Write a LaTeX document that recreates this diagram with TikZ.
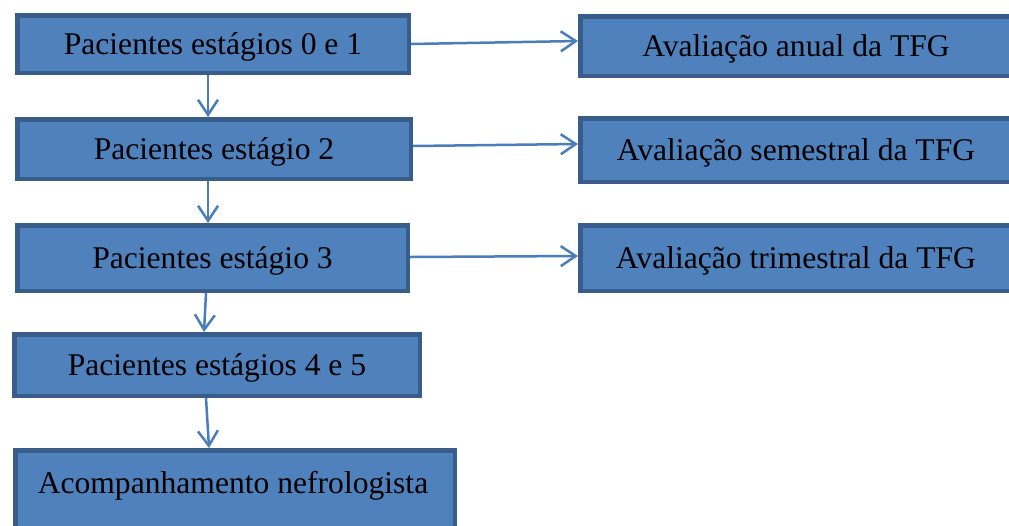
\documentclass[tikz,border=0pt]{standalone}
\usepackage{fontspec}
\setmainfont{Liberation Serif}
\usetikzlibrary{arrows.meta}
\definecolor{boxfill}{HTML}{4F81BD}
\definecolor{boxline}{HTML}{385D8A}
\definecolor{arrcol}{HTML}{4A7EBB}
\tikzset{
  box/.style={draw=boxline, fill=boxfill, line width=4.5pt, inner sep=0pt,
    font=\fontsize{31.6}{38}\selectfont, text=black, text depth=0pt},
  arr/.style={draw=arrcol, line width=2.5pt,
    -{Straight Barb[length=15pt, width=20pt, line width=2.5pt]}},
  txt/.style={inner sep=0pt, font=\fontsize{31.6}{38}\selectfont, text=black, text depth=0pt}
}
\begin{document}
\begin{tikzpicture}[x=1pt, y=-1pt]
\useasboundingbox (0,0) rectangle (1009,525);
\clip (0,0) rectangle (1009,525);
\fill[white] (0,0) rectangle (1009,525);
% left column
\node[box, minimum width=391.5pt, minimum height=57.5pt] (n1) at (213,44) {Pacientes estágios 0 e 1};
\node[box, minimum width=393.5pt, minimum height=59.5pt] (n2) at (214,149) {Pacientes estágio 2};
\node[box, minimum width=390.5pt, minimum height=65.5pt] (n3) at (212.5,258) {Pacientes estágio 3};
\node[box, minimum width=405.5pt, minimum height=61.5pt] (n4) at (217,365) {Pacientes estágios 4 e 5};
\node[box, minimum width=439.5pt, minimum height=95.5pt] (n5) at (235,498) {};
\node[txt] (t5) at (233,482) {Acompanhamento nefrologista};
% right column
\node[box, minimum width=431.5pt, minimum height=59.5pt] (a1) at (796,46) {Avaliação anual da TFG};
\node[box, minimum width=431.5pt, minimum height=63.5pt] (a2) at (796,150) {Avaliação semestral da TFG};
\node[box, minimum width=431.5pt, minimum height=65.5pt] (a3) at (796,258) {Avaliação trimestral da TFG};
% vertical connectors
\draw[arr] ([xshift=-5pt]n1.south) -- ([xshift=-6pt]n2.north);
\draw[arr] ([xshift=-6pt]n2.south) -- ([xshift=-4.5pt]n3.north);
\draw[arr] ([xshift=-6.5pt]n3.south) -- ([xshift=-13pt]n4.north);
\draw[arr] ([xshift=-11pt]n4.south) -- ([xshift=-26pt]n5.north);
% horizontal connectors
\draw[arr] (n1.east) -- ([yshift=5pt]a1.west);
\draw[arr] ([yshift=3pt]n2.east) -- ([yshift=6pt]a2.west);
\draw[arr] ([yshift=1pt]n3.east) -- ([yshift=2pt]a3.west);
\end{tikzpicture}
\end{document}
